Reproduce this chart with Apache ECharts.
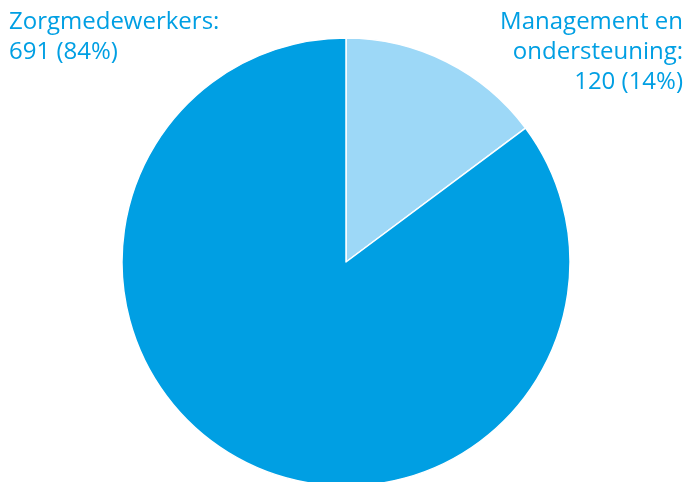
<!DOCTYPE html>
<html>
<head>
<meta charset="utf-8">
<script src="https://cdn.jsdelivr.net/npm/echarts@6/dist/echarts.min.js"></script>
<style>html,body{margin:0;padding:0;background:#fff}#c{width:688px;height:482px}</style>
</head>
<body>
<div id="c"></div>
<script>
const categories = ['Management en\nondersteuning:', 'Zorgmedewerkers:'];
const values = [120, 691];
const percentLabels = ['14%', '84%'];
const colors = ['#9dd8f7', '#009fe3'];

const chart = echarts.init(document.getElementById('c'));
const font = 'Open Sans';
chart.setOption({
  animation: false,
  series: [{
    type: 'pie',
    center: [346, 262],
    radius: 224,
    startAngle: 90,
    clockwise: true,
    label: { show: false },
    labelLine: { show: false },
    itemStyle: { borderColor: '#fff', borderWidth: 1.5 },
    data: categories.map((c, i) => ({ name: c, value: values[i], itemStyle: { color: colors[i] } }))
  }],
  graphic: [
    {
      type: 'text', left: 9, top: 7,
      style: {
        text: categories[1] + '\n' + values[1] + ' (' + percentLabels[1] + ')',
        font: '24px "' + font + '"', fill: '#009fe3', lineHeight: 30, textAlign: 'left'
      }
    },
    {
      type: 'text', right: 5, top: 7,
      style: {
        text: categories[0] + '\n' + values[0] + ' (' + percentLabels[0] + ')',
        font: '24px "' + font + '"', fill: '#009fe3', lineHeight: 30, textAlign: 'right'
      }
    }
  ]
});
</script>
</body>
</html>
